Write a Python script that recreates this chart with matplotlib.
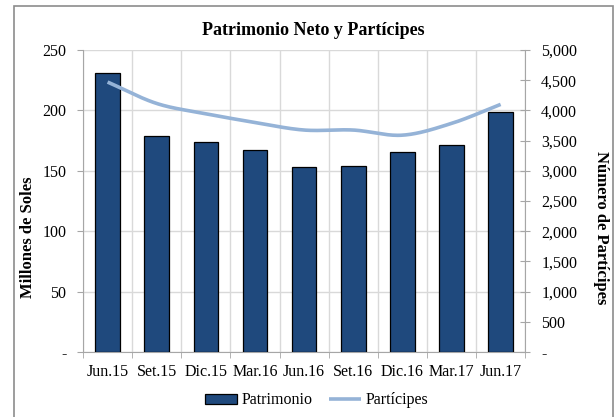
import matplotlib
matplotlib.use("Agg")
from matplotlib import pyplot as plt
from matplotlib.patches import Rectangle
from matplotlib.ticker import FuncFormatter, MultipleLocator
import numpy as np

# datos
periodos = ["Jun.15", "Set.15", "Dic.15", "Mar.16", "Jun.16", "Set.16", "Dic.16", "Mar.17", "Jun.17"]
patrimonio = [231, 178.5, 174, 167, 153, 154, 165.5, 171, 198.5]
participes = [4470, 4115, 3945, 3800, 3675, 3675, 3590, 3785, 4100]

azul = "#1F497D"
celeste = "#95B3D7"
gris = "#A6A6A6"

plt.rcParams["font.family"] = ["Liberation Serif", "DejaVu Serif"]


def suavizar(y, n=30):
  # curva suavizada tipo Excel (Catmull-Rom) que pasa por cada punto
  p = np.concatenate([[2 * y[0] - y[1]], y, [2 * y[-1] - y[-2]]])
  xs, ys = [], []
  for i in range(1, len(p) - 2):
    t = np.linspace(0, 1, n, endpoint=(i == len(p) - 3))
    p0, p1, p2, p3 = p[i - 1], p[i], p[i + 1], p[i + 2]
    v = 0.5 * ((2 * p1) + (-p0 + p2) * t + (2 * p0 - 5 * p1 + 4 * p2 - p3) * t ** 2
               + (-p0 + 3 * p1 - 3 * p2 + p3) * t ** 3)
    xs.extend(i - 1 + t)
    ys.extend(v)
  return np.array(xs), np.array(ys)


fig = plt.figure(figsize=(6.15, 4.17), dpi=100)
ax = fig.add_axes([0.135, 0.156, 0.719, 0.724])
ax2 = ax.twinx()

x = np.arange(len(periodos))
barras = ax.bar(x, patrimonio, width=0.5, color=azul, edgecolor="black", linewidth=0.9,
                zorder=3, label="Patrimonio")

xs, ys = suavizar(np.array(participes, dtype=float))
linea, = ax2.plot(xs, ys, color=celeste, linewidth=2.6, solid_capstyle="butt",
                  label="Partícipes", zorder=4)

ax.set_xlim(-0.5, len(periodos) - 0.5)
ax.set_ylim(0, 250)
ax2.set_ylim(0, 5000)

ax.yaxis.set_major_locator(MultipleLocator(50))
ax2.yaxis.set_major_locator(MultipleLocator(500))
ax.yaxis.set_major_formatter(FuncFormatter(lambda v, p: "-" if v == 0 else f"{v:.0f}"))
ax2.yaxis.set_major_formatter(FuncFormatter(lambda v, p: "-" if v == 0 else f"{v:,.0f}"))

ax.set_xticks(x)
ax.set_xticklabels(periodos)
ax.set_xticks(np.arange(-0.5, len(periodos)), minor=True)
ax.tick_params(axis="x", which="major", length=0, labelsize=11.5, pad=9)
ax.tick_params(axis="x", which="minor", length=4, color=gris, direction="out")
ax.tick_params(axis="y", length=4, color=gris, labelsize=11.5, pad=8)
ax2.tick_params(axis="y", length=7, color=gris, direction="inout", labelsize=11.5, pad=8)

ax.grid(True, axis="y", color="#D9D9D9", linewidth=1, zorder=0)
ax.grid(True, axis="x", which="minor", color="#D9D9D9", linewidth=1, zorder=0)
ax.set_axisbelow(True)

for a in (ax, ax2):
  a.spines["top"].set_visible(False)
  for s in ("left", "right", "bottom"):
    a.spines[s].set_color(gris)
ax2.spines["left"].set_visible(False)
ax2.spines["bottom"].set_visible(False)
ax.spines["right"].set_visible(False)

ax.set_ylabel("Millones de Soles", fontsize=12, fontweight="bold")
ax.yaxis.set_label_coords(-0.124, 0.38)
ax.yaxis.label.set_va("center")
ax2.set_ylabel("Número de Partícipes", fontsize=12, fontweight="bold", rotation=-90)
ax2.yaxis.set_label_coords(1.172, 0.41)
ax2.yaxis.label.set_va("center")

fig.text(0.51, 0.928, "Patrimonio Neto y Partícipes", ha="center", va="center",
         fontsize=13, fontweight="bold")

fig.legend([barras, linea], ["Patrimonio", "Partícipes"], loc="center",
           bbox_to_anchor=(0.515, 0.04), ncol=2, frameon=False, fontsize=11.5,
           handlelength=2.0, handleheight=0.6, handletextpad=0.3, columnspacing=1.0)

fig.patches.append(Rectangle((14 / 615, -0.02), 599 / 615, 1.006, transform=fig.transFigure,
                             fill=False, edgecolor="#8C8C8C", linewidth=1.2))

fig.savefig("out.png", dpi=100)
